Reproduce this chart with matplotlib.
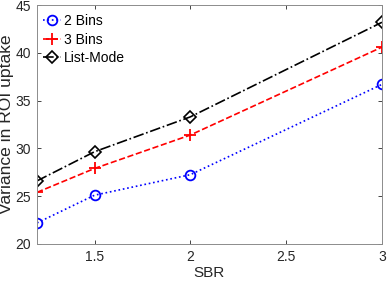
import matplotlib
matplotlib.use("Agg")
import matplotlib.pyplot as plt

sbr = [1.2, 1.5, 2.0, 3.0]
bins2 = [22.2, 25.1, 27.25, 36.7]
bins3 = [25.4, 27.9, 31.4, 40.6]
listmode = [26.6, 29.65, 33.3, 43.2]
xticks = [1.5, 2, 2.5, 3]
yticks = [20, 25, 30, 35, 40, 45]

plt.rcParams['font.family'] = ['Liberation Sans', 'DejaVu Sans']
fig = plt.figure(figsize=(3.88, 2.83), dpi=100)
ax = fig.add_axes([0.0954, 0.138, 0.889, 0.844])

ax.plot(sbr, bins2, ':', color='#0000ff', marker='o', mfc='none', mec='#0000ff',
        ms=7, mew=1.3, lw=1.2, label='2 Bins')
ax.plot(sbr, bins3, '--', color='#ff0000', marker='+', ms=9, mew=1.3, lw=1.2, label='3 Bins')
ax.plot(sbr, listmode, '-.', color='black', marker='D', mfc='none', mec='black',
        ms=6, mew=1.2, lw=1.2, label='List-Mode')

ax.set_xlim(1.2, 3)
ax.set_ylim(20, 45)
ax.set_xticks(xticks)
ax.set_xticklabels(['1.5', '2', '2.5', '3'])
ax.set_yticks(yticks)
ax.tick_params(direction='in', length=3, width=0.6, colors='#262626', labelsize=10,
               top=True, right=True, pad=4.5)
for s in ax.spines.values():
    s.set_color('#8c8c8c')
    s.set_linewidth(0.7)
ax.set_xlabel('SBR', fontsize=11, color='#262626', labelpad=1)
ax.set_ylabel('Variance in ROI uptake', fontsize=12.6, color='#262626')
ax.yaxis.set_label_coords(-0.067, 0.5)

leg = ax.legend(loc='upper left', bbox_to_anchor=(0.0084, 0.974), frameon=False,
                fontsize=10, handlelength=1.3, handletextpad=0.2, borderaxespad=0,
                labelspacing=0.32, borderpad=0.2)
fig.savefig('out.png', dpi=100)
